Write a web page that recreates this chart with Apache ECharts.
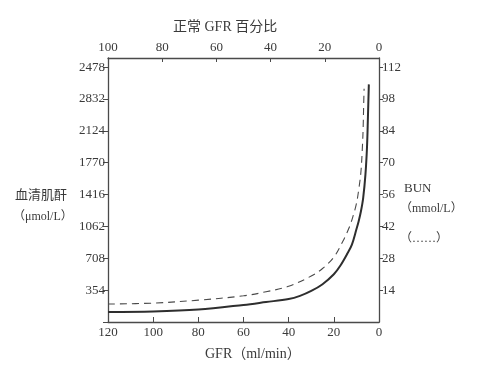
<!DOCTYPE html>
<html>
<head>
<meta charset="utf-8">
<script src="https://cdn.jsdelivr.net/npm/echarts@6/dist/echarts.min.js"></script>
<style>
  html, body { margin: 0; padding: 0; background: #ffffff; }
  #chart { width: 484px; height: 376px; }
</style>
</head>
<body>
<div id="chart"></div>
<script>
// GFR (ml/min) values for the serum creatinine curve (solid)
const creatGFR = [120, 100, 80, 60, 50, 40, 35, 30, 25, 20, 17, 14, 12, 10, 9, 8, 7, 6, 5.3, 4.9, 4.5];
// serum creatinine (µmol/L)
const creatValues = [111, 116, 138, 190, 222, 255, 290, 345, 420, 530, 630, 760, 860, 1030, 1120, 1230, 1380, 1640, 1950, 2280, 2640];

// GFR (ml/min) values for the BUN curve (dashed)
const bunGFR = [120, 100, 80, 60, 50, 40, 30, 25, 20, 16, 13, 11.5, 10, 9, 8, 7.3, 7, 6.8, 6.6];
// BUN (mmol/L)
const bunValues = [7.9, 8.3, 9.6, 11.5, 13.3, 15.7, 20.2, 23.5, 28.5, 35.5, 42, 46.5, 52, 58, 66, 78, 86, 95, 102.5];

// tick labels as printed in the figure
const creatTickLabels = ['', '354', '708', '1062', '1416', '1770', '2124', '2832', '2478'];
const bunTickLabels = ['', '14', '28', '42', '56', '70', '84', '98', '112'];
const bottomTickLabels = ['0', '20', '40', '60', '80', '100', '120'];
const topTickLabels = ['0', '20', '40', '60', '80', '100'];

const textColor = '#3a3a3a';
const axisColor = '#4a4a4a';
const serif = '"Liberation Serif", "DejaVu Serif", serif';
const cjk = '"Liberation Serif", "Noto Sans CJK SC", serif';

const creatStep = 354, bunStep = 14, nTicks = 8.286;

const chart = echarts.init(document.getElementById('chart'), null, { renderer: 'canvas' });
chart.setOption({
  backgroundColor: '#ffffff',
  animation: false,
  grid: { left: 108, right: 105, top: 58, bottom: 54, containLabel: false },
  xAxis: [
    {
      type: 'value', position: 'bottom', min: 0, max: 120, interval: 20, inverse: true,
      axisLine: { show: true, onZero: false, lineStyle: { color: axisColor, width: 1.3 } },
      axisTick: { show: true, inside: true, length: 5, lineStyle: { color: axisColor } },
      axisLabel: { color: textColor, fontSize: 13, fontFamily: serif, margin: 4,
        formatter: v => bottomTickLabels[Math.round(v / 20)] ?? '' },
      splitLine: { show: false }
    },
    {
      type: 'value', position: 'top', min: 0, max: 100, interval: 20, inverse: true,
      axisLine: { show: true, onZero: false, lineStyle: { color: axisColor, width: 1.3 } },
      axisTick: { show: true, inside: true, length: 4, lineStyle: { color: axisColor } },
      axisLabel: { color: textColor, fontSize: 13, fontFamily: serif, margin: 4,
        formatter: v => topTickLabels[Math.round(v / 20)] ?? '' },
      splitLine: { show: false }
    }
  ],
  yAxis: [
    {
      type: 'value', position: 'left', min: 0, max: creatStep * nTicks, interval: creatStep,
      axisLine: { show: true, onZero: false, lineStyle: { color: axisColor, width: 1.3 } },
      axisTick: { show: true, length: 5, lineStyle: { color: axisColor } },
      axisLabel: { color: textColor, fontSize: 13, fontFamily: serif, margin: 3, showMaxLabel: false,
        formatter: v => { const i = Math.round(v / creatStep); return Math.abs(v - i * creatStep) < 1 ? (creatTickLabels[i] ?? '') : ''; } },
      splitLine: { show: false }
    },
    {
      type: 'value', position: 'right', min: 0, max: bunStep * nTicks, interval: bunStep,
      axisLine: { show: true, onZero: false, lineStyle: { color: axisColor, width: 1.3 } },
      axisTick: { show: true, length: 4, lineStyle: { color: axisColor } },
      axisLabel: { color: textColor, fontSize: 13, fontFamily: serif, margin: 3, showMaxLabel: false, showMinLabel: false,
        formatter: v => { const i = Math.round(v / bunStep); return Math.abs(v - i * bunStep) < 0.05 ? (bunTickLabels[i] ?? '') : ''; } },
      splitLine: { show: false }
    }
  ],
  series: [
    {
      name: '血清肌酐', type: 'line', xAxisIndex: 0, yAxisIndex: 0,
      data: creatGFR.map((g, i) => [g, creatValues[i]]),
      showSymbol: false, smooth: 0.35,
      lineStyle: { color: '#2e2e2e', width: 2 }
    },
    {
      name: 'BUN', type: 'line', xAxisIndex: 0, yAxisIndex: 1,
      data: bunGFR.map((g, i) => [g, bunValues[i]]),
      showSymbol: false, smooth: 0.35,
      lineStyle: { color: '#4a4a4a', width: 1.1, type: [7, 5] }
    }
  ],
  graphic: [
    { type: 'text', left: 173, top: 20, style: { text: '正常 GFR 百分比', fill: textColor, font: '14px ' + cjk } },
    { type: 'text', left: 205, top: 347, style: { text: 'GFR（ml/min）', fill: textColor, font: '14px ' + cjk } },
    { type: 'text', left: 15, top: 189, style: { text: '血清肌酐', fill: textColor, font: '13px ' + cjk } },
    { type: 'text', left: 13, top: 211, style: { text: '（μmol/L）', fill: textColor, font: '12px ' + cjk } },
    { type: 'text', left: 404, top: 182, style: { text: 'BUN', fill: textColor, font: '13px ' + serif } },
    { type: 'text', left: 400, top: 203, style: { text: '（mmol/L）', fill: textColor, font: '12px ' + cjk } },
    { type: 'text', left: 400, top: 233, style: { text: '（……）', fill: textColor, font: '12px ' + cjk } }
  ]
});
</script>
</body>
</html>
